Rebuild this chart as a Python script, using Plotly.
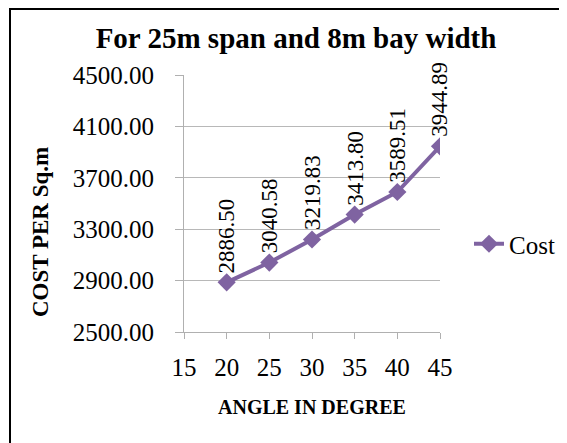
import plotly.graph_objects as go

angles = [20, 25, 30, 35, 40, 45]
cost = [2886.50, 3040.58, 3219.83, 3413.80, 3589.51, 3944.89]
x_ticks = [15, 20, 25, 30, 35, 40, 45]
y_ticks = [2500, 2900, 3300, 3700, 4100, 4500]

W, H = 567, 443
OFF = 8  # page body margin offset
L, R, T, B = 184 - OFF, 440 - OFF, 75 - OFF, 332 - OFF  # plot area bounds in figure pixels
color = "#7F63A1"
serif = "Liberation Serif"

def px(xp):
    return (xp - OFF - L) / (R - L)

def py(yp):
    return (B - (yp - OFF)) / (B - T)

fig = go.Figure()
fig.add_trace(go.Scatter(
    x=angles, y=cost, mode="lines+markers", name="Cost",
    line=dict(color=color, width=4),
    marker=dict(symbol="diamond", size=14, color=color),
))

annotations = []
for a, c in zip(angles, cost):
    annotations.append(dict(
        x=a, y=c, xref="x", yref="y", text=f"{c:.2f}", textangle=-90,
        showarrow=False, xanchor="center", yanchor="bottom", yshift=7,
        font=dict(family=serif, size=23, color="black"),
    ))
annotations.append(dict(
    x=px(40), y=py(232), xref="paper", yref="paper", text="<b>COST PER Sq.m</b>",
    textangle=-90, showarrow=False, xanchor="center", yanchor="middle",
    font=dict(family=serif, size=23, color="black"),
))
annotations.append(dict(
    x=px(312), y=py(407), xref="paper", yref="paper", text="<b>ANGLE IN DEGREE</b>",
    showarrow=False, xanchor="center", yanchor="middle",
    font=dict(family=serif, size=20, color="black"),
))

fig.update_layout(
    width=W, height=H,
    margin=dict(l=L, r=W - R, t=T, b=H - B),
    paper_bgcolor="white", plot_bgcolor="white",
    title=dict(text="<b>For 25m span and 8m bay width</b>", x=(296 - OFF) / W, y=1 - (38 - OFF) / H,
               xanchor="center", yanchor="middle",
               font=dict(family=serif, size=29, color="black")),
    xaxis=dict(range=[15, 45], tickvals=x_ticks, ticktext=[str(v) for v in x_ticks],
               showgrid=False, showline=True, linecolor="#b0b0b0", linewidth=1,
               ticks="outside", ticklen=6, tickcolor="#b0b0b0", ticklabelstandoff=7,
               tickfont=dict(family=serif, size=25, color="black"), zeroline=False),
    yaxis=dict(range=[2500, 4500], tickvals=y_ticks, tickformat=".2f",
               showgrid=True, gridcolor="#b8b8b8", gridwidth=1,
               showline=True, linecolor="#b0b0b0", linewidth=1,
               ticks="outside", ticklen=8, tickcolor="#b0b0b0", ticklabelstandoff=16,
               tickfont=dict(family=serif, size=25, color="black"), zeroline=False),
    showlegend=True,
    legend=dict(x=px(469), y=py(244), xanchor="left", yanchor="middle",
                font=dict(family=serif, size=25, color="black"),
                bgcolor="rgba(0,0,0,0)", itemwidth=30),
    annotations=annotations,
    shapes=[dict(type="rect", xref="paper", yref="paper",
                 x0=px(10), x1=px(580), y0=py(460), y1=py(OFF + 1),
                 line=dict(color="black", width=2))],
)

fig.write_html("out.html")
